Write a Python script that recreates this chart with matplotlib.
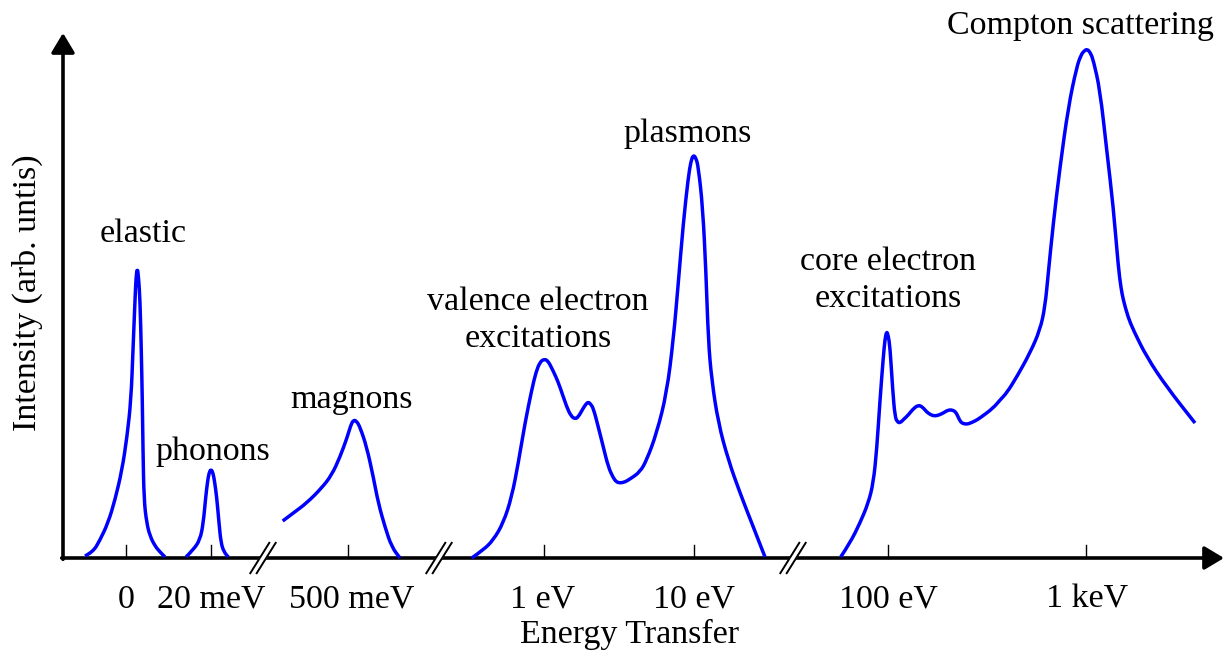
import numpy as np
import matplotlib.pyplot as plt
from matplotlib.path import Path
from matplotlib.patches import PathPatch

plt.rcParams['font.family'] = ['Liberation Serif', 'DejaVu Serif']

elastic_x = [85, 93, 100, 108, 115, 122, 127, 131, 133, 135, 136, 137.3, 138.6, 140, 141.3, 142.3, 143, 144, 146.7, 150, 155, 160, 165]
elastic_y = [2, 6, 18, 35, 58, 88, 121, 158, 208, 258, 280, 291, 280, 258, 208, 158, 108, 58, 35, 22, 12, 6, 1]

phonon_x = [186, 193, 200, 203.3, 205.7, 207.5, 209, 211, 213, 214.5, 216.7, 219, 221, 224, 228.3]
phonon_y = [1, 8, 18, 35, 61, 76, 85, 89, 85, 77, 61, 35, 15, 6, 1]

magnon_x = [282.7, 293.3, 306.7, 321.7, 331.7, 340, 347.3, 350.5, 353.3, 356.5, 360, 366.7, 373.3, 378.3, 385, 391.7, 400]
magnon_y = [37, 45, 55, 70, 83, 101, 121, 132, 138, 137, 131, 111, 81, 55, 31, 11, 0]

# valence electron excitations running into the plasmon peak
valence_x = [471.7, 483.3, 493.3, 503.3, 511.7, 518.3, 525, 531.7, 536, 540, 544.3, 548, 551.7, 556, 560,
             566.7, 571, 575, 578.3, 583.3, 586, 588.3, 590.5, 593.3, 598.3, 603.3, 608.3, 613.3, 616.5, 620,
             625, 630, 640, 646.7, 656.7, 666.7, 673.3, 678.3, 683.3, 688.3, 691, 693.3, 696, 698.3, 702.7,
             706, 708.3, 711.7, 718.3, 728.3, 740, 753.3, 765]
valence_y = [0, 8, 18, 35, 61, 95, 135, 168, 186, 196, 199, 197, 190, 181, 171,
             151, 142, 139, 141, 150, 154, 156, 154, 150, 131, 111, 91, 80, 76, 75,
             76, 79, 86, 98, 125, 165, 218, 275, 335, 381, 397, 403, 400, 391, 351,
             285, 218, 178, 135, 98, 65, 31, 1]

# core edges running into the Compton peak
core_x = [840.7, 850, 860, 868.3, 873.3, 876.7, 880, 883.3, 885, 886.7, 888.3, 890, 892.7, 895, 897.5,
          900, 904, 908.3, 913, 918.3, 922.5, 926.7, 931, 935, 939, 943.3, 948, 952.7, 955.5, 957.3,
          959.5, 961.7, 965, 968.3, 975, 980, 993.3, 1000, 1006.7, 1016.7, 1030, 1040, 1045, 1048.3,
          1053.3, 1060, 1068.3, 1076.7, 1081, 1084, 1087.3, 1090.5, 1093.3, 1100, 1106.7, 1113.3,
          1118.3, 1121, 1123.3, 1128, 1133.3, 1146.7, 1166.7, 1195]
core_y = [1, 15, 35, 55, 75, 108, 158, 201, 219, 227, 222, 211, 168, 141, 136,
          135, 139, 143, 149, 153, 151, 146, 143, 142, 143, 145, 148, 148, 146, 143,
          138, 135, 134, 134, 137, 140, 150, 158, 165, 181, 205, 228, 251, 285,
          335, 391, 451, 491, 503, 507, 509, 505, 498, 468, 408, 351,
          291, 270, 258, 241, 228, 201, 171, 135]

curves = [(elastic_x, elastic_y), (phonon_x, phonon_y), (magnon_x, magnon_y),
          (valence_x, valence_y), (core_x, core_y)]

tick_pos = [126, 211, 348, 544, 694, 888, 1086]
tick_labels = ['0', '20 meV', '500 meV', '1 eV', '10 eV', '100 eV', '1 keV']
tick_label_x = [126, 211, 352, 543, 694, 888, 1087]
break_pos = [263, 439, 793]

peak_labels = ['elastic', 'phonons', 'magnons', 'valence electron\nexcitations', 'plasmons',
               'core electron\nexcitations', 'Compton scattering']
label_x = [143, 213, 351, 538, 688, 888, 1080]
label_y = [316, 98, 150, 211, 416, 251, 524]


def smooth_path(xs, ys):
    # quadratic bezier chain: traced points are control points, midpoints are anchors
    pts = np.column_stack([xs, ys])
    verts = [pts[0]]
    codes = [Path.MOVETO]
    for i in range(1, len(pts) - 1):
        verts += [pts[i], (pts[i] + pts[i + 1]) / 2]
        codes += [Path.CURVE3, Path.CURVE3]
    verts.append(pts[-1])
    codes.append(Path.LINETO)
    return Path(verts, codes)


BASE = 558
fig = plt.figure(figsize=(12.25, 6.51), dpi=100)
ax = fig.add_axes([0, 0, 1, 1])
ax.set_xlim(0, 1225)
ax.set_ylim(BASE - 651, BASE)
ax.axis('off')

fs = 24.5
lw_axis = 2.6

# axes with arrow heads
arrow = dict(arrowstyle='-|>,head_length=0.7,head_width=0.42', lw=lw_axis, color='black',
             shrinkA=0, shrinkB=0, mutation_scale=17)
ax.annotate('', xy=(63, BASE - 33), xytext=(63, -1.3), arrowprops=arrow)
ax.annotate('', xy=(1224, 0), xytext=(61.7, 0), arrowprops=arrow)

for t in tick_pos:
    ax.plot([t, t], [0, 13], color='black', lw=1.0)
for t, lab in zip(tick_label_x, tick_labels):
    ax.text(t, BASE - 608, lab, ha='center', va='baseline', fontsize=fs)

# axis break marks
for b in break_pos:
    ax.fill([b - 13, b + 7, b + 13, b - 7], [-16, 16, 16, -16], color='white', zorder=3)
    for off in (-3.2, 3.2):
        ax.plot([b + off - 10, b + off + 10], [-16, 16], color='black', lw=1.4, zorder=4,
                solid_capstyle='butt')

for xs, ys in curves:
    ax.add_patch(PathPatch(smooth_path(xs, ys), facecolor='none', edgecolor='#0000ff',
                           lw=2.5, joinstyle='round', capstyle='butt', zorder=5))

for lab, x, y in zip(peak_labels, label_x, label_y):
    ax.text(x, y, lab, ha='center', va='baseline', fontsize=fs, linespacing=1.26)

ax.text(630, BASE - 643, 'Energy Transfer', ha='center', va='baseline', fontsize=fs)
ax.text(27, BASE - 293, 'Intensity (arb. untis)', ha='center', va='center', rotation=90, fontsize=fs)

fig.savefig('out.png', dpi=100)
